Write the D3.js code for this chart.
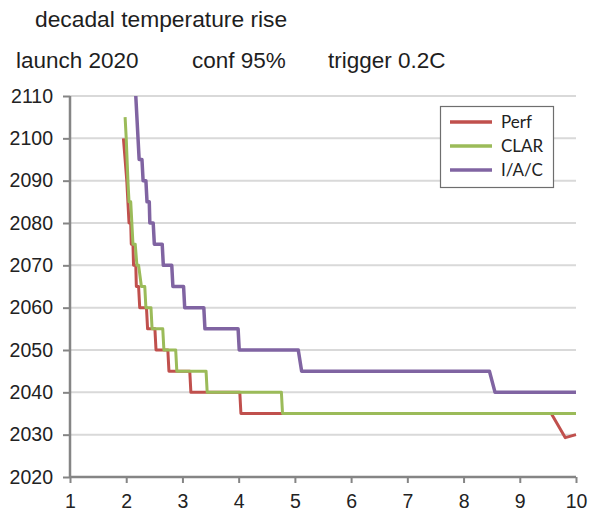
<!DOCTYPE html>
<html lang="en">
<head>
	<meta charset="utf-8">
	<title>decadal temperature rise</title>
	<script type="text/javascript" src="https://d3js.org/d3.v7.min.js"></script>
	<style>
		body { margin: 0; background: #fff; }
	</style>
</head>
<body>
	<script type="text/javascript">

        // tick values
        var xTicks = [1, 2, 3, 4, 5, 6, 7, 8, 9, 10];
        var yTicks = [2020, 2030, 2040, 2050, 2060, 2070, 2080, 2090, 2100, 2110];

        // series names and colours (legend order)
        var names = ["Perf", "CLAR", "I/A/C"];
        var colors = ["#c0504d", "#9bbb59", "#8064a2"];

        // Perf
        var perfX = [1.95, 1.98, 2.01, 2.03, 2.05, 2.08, 2.09, 2.12, 2.13, 2.17, 2.18, 2.22, 2.24, 2.36, 2.38, 2.51, 2.53, 2.74, 2.76, 3.13, 3.15, 4.02, 4.04, 9.56, 9.81, 10];
        var perfY = [2100, 2095, 2090, 2085, 2080, 2080, 2075, 2075, 2070, 2070, 2065, 2065, 2060, 2060, 2055, 2055, 2050, 2050, 2045, 2045, 2040, 2040, 2035, 2035, 2029.3, 2030];

        // CLAR
        var clarX = [1.98, 2.00, 2.03, 2.05, 2.08, 2.10, 2.12, 2.16, 2.19, 2.22, 2.27, 2.33, 2.35, 2.44, 2.46, 2.65, 2.67, 2.88, 2.90, 3.42, 3.44, 4.76, 4.78, 10];
        var clarY = [2105, 2100, 2090, 2085, 2085, 2080, 2075, 2075, 2070, 2070, 2065, 2065, 2060, 2060, 2055, 2055, 2050, 2050, 2045, 2045, 2040, 2040, 2035, 2035];

        // I/A/C
        var iacX = [2.17, 2.21, 2.23, 2.28, 2.30, 2.35, 2.37, 2.41, 2.42, 2.48, 2.50, 2.64, 2.66, 2.81, 2.83, 3.02, 3.04, 3.38, 3.40, 3.99, 4.01, 5.06, 5.12, 8.46, 8.56, 10];
        var iacY = [2110, 2100, 2095, 2095, 2090, 2090, 2085, 2085, 2080, 2080, 2075, 2075, 2070, 2070, 2065, 2065, 2060, 2060, 2055, 2055, 2050, 2050, 2045, 2045, 2040, 2040];

        var seriesX = [perfX, clarX, iacX];
        var seriesY = [perfY, clarY, iacY];

        var width = 596, height = 512;
        var margin = {left: 70, right: 20, top: 96, bottom: 35};

        var svg = d3.select("body")
            .append("svg")
            .attr("width", width)
            .attr("height", height);

        var x = d3.scaleLinear()
            .domain([1, 10])
            .range([margin.left, width - margin.right]);

        var y = d3.scaleLinear()
            .domain([2020, 2110])
            .range([height - margin.bottom, margin.top]);

        // titles
        svg.append("text")
            .attr("x", 35)
            .attr("y", 27)
            .attr("font-family", "Liberation Sans, Arial, sans-serif")
            .attr("font-size", 22.8)
            .attr("fill", "#1e1e1e")
            .text("decadal temperature rise");

        var subs = [["launch 2020", 16], ["conf 95%", 192], ["trigger 0.2C", 328]];
        svg.selectAll(".sub")
            .data(subs)
            .enter()
            .append("text")
            .attr("class", "sub")
            .attr("x", function(d) { return d[1]; })
            .attr("y", 68)
            .attr("font-family", "Liberation Sans, Arial, sans-serif")
            .attr("font-size", 22.5)
            .attr("fill", "#1e1e1e")
            .text(function(d) { return d[0]; });

        // gridlines
        svg.append("g")
            .selectAll("line")
            .data(yTicks.slice(1))
            .enter()
            .append("line")
            .attr("x1", x(1))
            .attr("x2", x(10))
            .attr("y1", function(d) { return y(d); })
            .attr("y2", function(d) { return y(d); })
            .attr("stroke", "#d9d9d9")
            .attr("stroke-width", 2);

        // axes
        var yAxis = svg.append("g")
            .attr("transform", "translate(" + x(1) + ",0)")
            .call(d3.axisLeft(y).tickValues(yTicks).tickSize(7).tickPadding(10).tickFormat(d3.format("d")));

        var xAxis = svg.append("g")
            .attr("transform", "translate(0," + y(2020) + ")")
            .call(d3.axisBottom(x).tickValues(xTicks).tickSize(6).tickPadding(11).tickFormat(d3.format("d")));

        [yAxis, xAxis].forEach(function(a) {
            a.select(".domain").attr("stroke", "#858585").attr("stroke-width", 2.5);
            a.selectAll(".tick line").attr("stroke", "#858585").attr("stroke-width", 2);
            a.selectAll(".tick text")
                .attr("font-family", "Liberation Sans, Arial, sans-serif")
                .attr("font-size", 19.5)
                .attr("fill", "#222");
        });
        yAxis.select(".domain").attr("d", "M0," + y(2020) + "V" + y(2110));
        xAxis.select(".domain").attr("d", "M" + x(1) + ",0H" + x(10));

        // series lines
        var line = d3.line()
            .x(function(d) { return x(d[0]); })
            .y(function(d) { return y(d[1]); });

        svg.append("g")
            .selectAll("path")
            .data(seriesX.map(function(xs, i) {
                return xs.map(function(v, j) { return [v, seriesY[i][j]]; });
            }))
            .enter()
            .append("path")
            .attr("d", line)
            .attr("fill", "none")
            .attr("stroke", function(d, i) { return colors[i]; })
            .attr("stroke-width", function(d, i) { return i == 2 ? 3.5 : 3; })
            .attr("stroke-linejoin", "round");

        // legend
        var legend = svg.append("g")
            .attr("transform", "translate(440,106)");

        legend.append("rect")
            .attr("x", 0.5)
            .attr("y", 0.5)
            .attr("width", 113)
            .attr("height", 81)
            .attr("fill", "#fff")
            .attr("stroke", "#6e6e6e")
            .attr("stroke-width", 1.2);

        var item = legend.selectAll(".item")
            .data(names)
            .enter()
            .append("g")
            .attr("class", "item")
            .attr("transform", function(d, i) { return "translate(0," + (16 + i * 24) + ")"; });

        item.append("line")
            .attr("x1", 10)
            .attr("x2", 52)
            .attr("stroke", function(d, i) { return colors[i]; })
            .attr("stroke-width", 3.5);

        item.append("text")
            .attr("x", 61)
            .attr("dy", "0.35em")
            .attr("font-family", "Lato, sans-serif")
            .attr("font-size", 17)
            .attr("fill", "#222")
            .text(function(d) { return d; });

	</script>
</body>
</html>
